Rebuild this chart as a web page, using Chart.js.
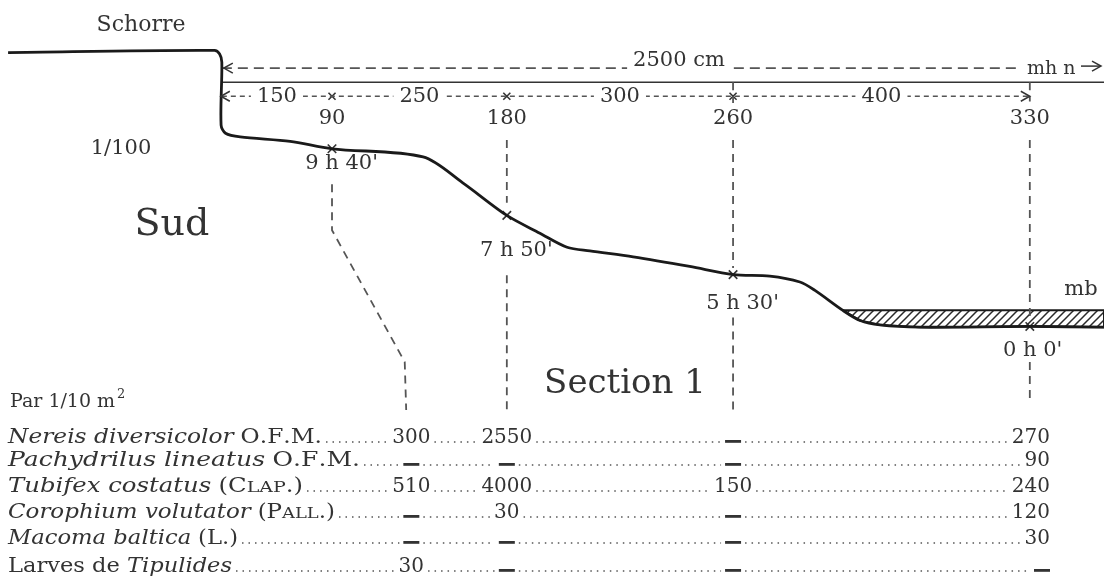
<!DOCTYPE html>
<html>
<head>
<meta charset="utf-8">
<script src="https://cdn.jsdelivr.net/npm/chart.js@4.4.0/dist/chart.umd.min.js"></script>
<style>
  html, body { margin: 0; padding: 0; background: #fff; }
</style>
</head>
<body>
<canvas id="sectionChart" width="1104" height="587"></canvas>
<script>
// shore profile: x = cm from the foot of the schorre, y = cm below mhn
const profileX     = [-291, -10, -3, 0, -1, 5, 25, 93, 150, 274, 328, 388, 433, 470, 501, 560, 637, 696, 746, 787, 807, 845, 869, 896, 950, 1100, 1201];
const profileDepth = [-40, -43, -38, -27, 58, 69, 74, 80, 90, 101, 136, 180, 204, 223, 228, 236, 249, 260, 262, 270, 281, 308, 322, 328, 331, 330, 331];

// sampling stations
const stationX      = [150, 388, 696, 1100];
const stationDepth  = [90, 180, 260, 330];
const stationLabels = ['90', '180', '260', '330'];
const emersion      = ["9 h 40'", "7 h 50'", "5 h 30'", "0 h 0'"];
const intervals     = ['150', '250', '300', '400'];
const totalLength   = '2500 cm';
const mbDepth       = 308;

// fauna per 1/10 m2 (null = none found)
const speciesPrefix  = ['', '', '', '', '', 'Larves de '];
const speciesNames   = ['Nereis diversicolor', 'Pachydrilus lineatus', 'Tubifex costatus', 'Corophium volutator', 'Macoma baltica', 'Tipulides'];
const speciesAuthors = ['O.F.M.', 'O.F.M.', '(Clap.)', '(Pall.)', '(L.)', ''];
const counts90  = [300, null, 510, null, null, 30];
const counts180 = [2550, null, 4000, 30, null, null];
const counts260 = [null, null, 150, null, null, null];
const counts330 = [270, 90, 240, 120, 30, null];
const tableColX = [258, 388, 696, 1100];

const INK = '#333';
const SERIF = '"DejaVu Serif", "Liberation Serif", serif';

function hatch() {
    const c = document.createElement('canvas');
    c.width = 8; c.height = 8;
    const g = c.getContext('2d');
    g.strokeStyle = '#2a2a2a';
    g.lineWidth = 1.5;
    g.beginPath();
    g.moveTo(0, 8); g.lineTo(8, 0);
    g.moveTo(-2, 2); g.lineTo(2, -2);
    g.moveTo(6, 10); g.lineTo(10, 6);
    g.stroke();
    return g.createPattern(c, 'repeat');
}

const profile = profileX.map((x, i) => ({x: x, y: profileDepth[i]}));
const stations = stationX.map((x, i) => ({x: x, y: stationDepth[i]}));

// water below mb, closed along the bottom
const wetPart = profile.filter(p => p.x >= 845);
const water = [{x: 845, y: mbDepth}, {x: 1201, y: mbDepth}].concat(wetPart.slice().reverse());

// vertical sampling guides
const guides = [
    {x: 150, y: 138}, {x: 150, y: 200}, {x: 249, y: 378}, {x: 251, y: 443}, {x: 251, y: null},
    {x: 388, y: 78}, {x: 388, y: 163}, {x: 388, y: null},
    {x: 388, y: 261}, {x: 388, y: 443}, {x: 388, y: null},
    {x: 696, y: 0}, {x: 696, y: 28}, {x: 696, y: null},
    {x: 696, y: 78}, {x: 696, y: 251}, {x: 696, y: null},
    {x: 696, y: 318}, {x: 696, y: 450}, {x: 696, y: null},
    {x: 1100, y: 0}, {x: 1100, y: 26}, {x: 1100, y: null},
    {x: 1100, y: 78}, {x: 1100, y: 319}, {x: 1100, y: null},
    {x: 1100, y: 378}, {x: 1100, y: 430}
];

function px(chart, x) { return chart.scales.x.getPixelForValue(x); }
function py(chart, y) { return chart.scales.y.getPixelForValue(y); }

function chevron(ctx, x, y, dir) {
    ctx.beginPath();
    ctx.moveTo(x - dir * 9, y - 5);
    ctx.lineTo(x, y);
    ctx.lineTo(x - dir * 9, y + 5);
    ctx.stroke();
}

// draws roman text with lower case letters set as small capitals
function smallCaps(ctx, s, x, y, size) {
    let cx = x;
    for (const ch of s) {
        const low = ch !== ch.toUpperCase();
        ctx.font = (low ? size * 0.78 : size) + 'px ' + SERIF;
        const c = ch.toUpperCase();
        ctx.fillText(c, cx, y);
        cx += ctx.measureText(c).width;
    }
    return cx;
}

function nameWidth(ctx, r, size) {
    let w = 0;
    ctx.font = size + 'px ' + SERIF;
    w += ctx.measureText(speciesPrefix[r]).width;
    ctx.font = 'italic ' + size + 'px ' + SERIF;
    w += ctx.measureText(speciesNames[r]).width;
    const a = speciesAuthors[r];
    if (a) {
        w += 6;
        for (const ch of a) {
            const low = ch !== ch.toUpperCase();
            ctx.font = (low ? size * 0.78 : size) + 'px ' + SERIF;
            w += ctx.measureText(ch.toUpperCase()).width;
        }
    }
    return w;
}

const sectionLabels = {
    id: 'sectionLabels',
    afterDatasetsDraw(chart) {
        const ctx = chart.ctx;
        ctx.save();
        ctx.fillStyle = INK;
        ctx.strokeStyle = INK;
        ctx.lineWidth = 1.5;
        ctx.textBaseline = 'middle';
        ctx.textAlign = 'center';

        // free labels
        ctx.font = '22px ' + SERIF;
        ctx.fillText('Schorre', 141, 25);
        ctx.font = '21px ' + SERIF;
        ctx.fillText('1/100', 121, 149);
        ctx.font = '38px ' + SERIF;
        ctx.fillText('Sud', 172, 225);
        ctx.font = '34px ' + SERIF;
        ctx.fillText('Section 1', 625, 384);
        ctx.font = '21px ' + SERIF;
        ctx.fillText('mb', 1081, 290);

        // total length line label
        const yTot = py(chart, -19);
        ctx.font = '21px ' + SERIF;
        let w = ctx.measureText(totalLength).width;
        ctx.fillStyle = '#fff';
        ctx.fillRect(679 - w / 2 - 6, yTot - 12, w + 12, 16);
        ctx.fillStyle = INK;
        ctx.fillText(totalLength, 679, yTot - 8);
        ctx.textAlign = 'left';
        ctx.font = '19px ' + SERIF;
        ctx.fillText('mh n', 1027, yTot + 1);
        ctx.beginPath();
        ctx.moveTo(1081, yTot - 2); ctx.lineTo(1100, yTot - 2); ctx.stroke();
        chevron(ctx, 1101, yTot - 2, 1);
        chevron(ctx, px(chart, 0) + 2, yTot, -1);

        // interval line labels
        const yInt = py(chart, 19);
        chevron(ctx, px(chart, 0) - 1, yInt, -1);
        chevron(ctx, px(chart, 1100), yInt, 1);
        ctx.textAlign = 'center';
        ctx.font = '21px ' + SERIF;
        const bounds = [0].concat(stationX);
        intervals.forEach((s, i) => {
            const cx = px(chart, (bounds[i] + bounds[i + 1]) / 2);
            const tw = ctx.measureText(s).width;
            ctx.fillStyle = '#fff';
            ctx.fillRect(cx - tw / 2 - 6, yInt - 8, tw + 12, 16);
            ctx.fillStyle = INK;
            ctx.fillText(s, cx, yInt);
        });

        // station heights and emersion times
        const emOffset = [15, 35, 29, 24];
        stationX.forEach((x, i) => {
            const cx = px(chart, x);
            ctx.font = '21px ' + SERIF;
            ctx.textAlign = 'center';
            ctx.fillText(stationLabels[i], cx, py(chart, 0) + 36);
            const s = emersion[i];
            const k = s.indexOf('h');
            const lead = ctx.measureText(s.slice(0, k)).width + ctx.measureText('h').width / 2;
            ctx.textAlign = 'left';
            ctx.fillText(s, cx - lead, py(chart, stationDepth[i]) + emOffset[i]);
        });

        // table
        ctx.textBaseline = 'alphabetic';
        ctx.textAlign = 'left';
        ctx.font = '19px ' + SERIF;
        ctx.fillText('Par 1/10 m', 10, 407);
        const pw = ctx.measureText('Par 1/10 m').width;
        ctx.font = '13px ' + SERIF;
        ctx.fillText('2', 10 + pw + 2, 398);

        const rowBase = [443, 466, 492, 518, 544, 572];
        const nameRight = [322, 360, 303, 335, 238, 232];
        const size = 20;
        const cols = [counts90, counts180, counts260, counts330];
        speciesNames.forEach((name, r) => {
            const yb = rowBase[r];
            const natural = nameWidth(ctx, r, size);
            const sx = (nameRight[r] - 8) / natural;
            ctx.save();
            ctx.translate(8, yb);
            ctx.scale(sx, 1);
            let cx = 0;
            ctx.textAlign = 'left';
            if (speciesPrefix[r]) {
                ctx.font = size + 'px ' + SERIF;
                ctx.fillText(speciesPrefix[r], cx, 0);
                cx += ctx.measureText(speciesPrefix[r]).width;
            }
            ctx.font = 'italic ' + size + 'px ' + SERIF;
            ctx.fillText(name, cx, 0);
            cx += ctx.measureText(name).width + 6;
            const a = speciesAuthors[r];
            if (a) smallCaps(ctx, a, cx, 0, size);
            ctx.restore();
            const nameEnd = nameRight[r];

            // value cells
            const cells = cols.map((c, j) => {
                const v = c[r];
                const s = v === null ? null : String(v);
                ctx.font = size + 'px ' + SERIF;
                const tw = s === null ? 16 : ctx.measureText(s).width;
                const center = j === 3 ? 1050 - tw / 2 : px(chart, tableColX[j]);
                return {s: s, l: center - tw / 2, r: center + tw / 2, c: center};
            });

            // dotted leaders
            ctx.save();
            ctx.setLineDash([1.5, 5]);
            ctx.lineWidth = 1.6;
            ctx.strokeStyle = '#555';
            let from = nameEnd + 4;
            cells.forEach(cell => {
                ctx.beginPath();
                ctx.moveTo(from, yb - 1);
                ctx.lineTo(cell.l - 4, yb - 1);
                ctx.stroke();
                from = cell.r + 4;
            });
            ctx.restore();

            cells.forEach(cell => {
                if (cell.s === null) {
                    ctx.fillRect(cell.c - 8, yb - 3, 16, 2.8);
                } else {
                    ctx.textAlign = 'left';
                    ctx.font = size + 'px ' + SERIF;
                    ctx.fillText(cell.s, cell.l, yb);
                }
            });
        });
        ctx.restore();
    }
};

const ctx = document.getElementById('sectionChart').getContext('2d');
const chart = new Chart(ctx, {
    type: 'scatter',
    data: {
        datasets: [
            {
                label: 'Profil',
                data: profile,
                showLine: true,
                borderColor: '#1a1a1a',
                borderWidth: 2.8,
                tension: 0.3,
                pointRadius: 0
            },
            {
                label: 'Stations',
                data: stations,
                showLine: false,
                pointStyle: 'crossRot',
                pointRadius: 6,
                borderColor: INK,
                borderWidth: 1.6
            },
            {
                label: 'Guides',
                data: guides,
                showLine: true,
                spanGaps: false,
                borderColor: '#555',
                borderWidth: 1.8,
                borderDash: [8, 6],
                pointRadius: 0
            },
            {
                label: 'mhn',
                data: [{x: 0, y: 0}, {x: 1201, y: 0}],
                showLine: true,
                borderColor: INK,
                borderWidth: 1.5,
                pointRadius: 0
            },
            {
                label: 'Longueur totale',
                data: [{x: 0, y: -19}, {x: 1086, y: -19}],
                showLine: true,
                borderColor: '#555',
                borderWidth: 1.8,
                borderDash: [10, 6],
                pointRadius: 0
            },
            {
                label: 'Intervalles',
                data: [{x: 0, y: 19}, {x: 1100, y: 19}],
                showLine: true,
                borderColor: '#555',
                borderWidth: 1.6,
                borderDash: [5, 4],
                pointRadius: 0
            },
            {
                label: 'Reperes',
                data: stationX.slice(0, 3).map(x => ({x: x, y: 19})),
                showLine: false,
                pointStyle: 'crossRot',
                pointRadius: 5,
                borderColor: INK,
                borderWidth: 1.6
            },
            {
                label: 'Eau',
                data: water,
                showLine: true,
                fill: 'shape',
                backgroundColor: hatch(),
                borderColor: '#1a1a1a',
                borderWidth: 2,
                tension: 0,
                pointRadius: 0
            }
        ]
    },
    options: {
        responsive: false,
        animation: false,
        layout: { padding: 0, autoPadding: false },
        plugins: {
            legend: { display: false },
            tooltip: { enabled: false }
        },
        scales: {
            x: { type: 'linear', min: -302, max: 1201, display: false },
            y: { type: 'linear', min: -111, max: 682, reverse: true, display: false }
        }
    },
    plugins: [sectionLabels]
});
</script>
</body>
</html>
